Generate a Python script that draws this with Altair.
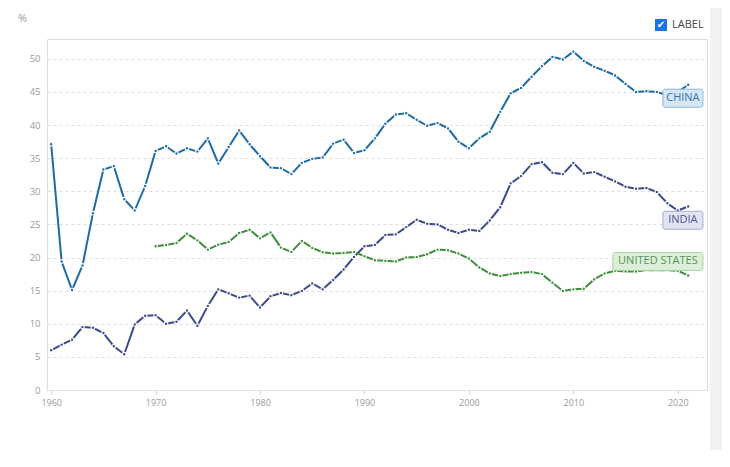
import altair as alt
import pandas as pd

years = list(range(1960, 2022))

china = [37.1, 19.4, 15.1, 18.8, 26.7, 33.3, 33.8, 28.8, 27.1, 30.8,
         36.1, 36.8, 35.7, 36.5, 36.0, 38.0, 34.2, 36.7, 39.2, 37.1,
         35.3, 33.6, 33.5, 32.6, 34.3, 34.9, 35.1, 37.2, 37.8, 35.8,
         36.2, 38.0, 40.2, 41.6, 41.8, 40.8, 39.9, 40.3, 39.5, 37.5,
         36.5, 38.0, 39.0, 42.0, 44.8, 45.6, 47.3, 48.9, 50.3, 49.9,
         51.1, 49.7, 48.8, 48.2, 47.5, 46.2, 45.0, 45.1, 45.0, 44.5, 45.0, 46.1]

india = [6.0, 6.85, 7.6, 9.5, 9.4, 8.6, 6.6, 5.4, 9.9, 11.2,
         11.3, 10.0, 10.3, 12.0, 9.7, 12.7, 15.2, 14.6, 13.95, 14.25,
         12.45, 14.15, 14.65, 14.3, 14.95, 16.1, 15.2, 16.6, 18.2, 20.1,
         21.7, 21.9, 23.4, 23.5, 24.6, 25.7, 25.1, 25.0, 24.2, 23.7,
         24.2, 24.0, 25.6, 27.6, 31.2, 32.3, 34.1, 34.4, 32.8, 32.6,
         34.3, 32.7, 32.9, 32.2, 31.5, 30.7, 30.4, 30.5, 29.9, 28.2, 27.1, 27.7]

united_states = [None] * 10 + [
         21.7, 21.9, 22.2, 23.6, 22.6, 21.2, 21.95, 22.35, 23.7, 24.2,
         22.9, 23.8, 21.5, 20.85, 22.5, 21.45, 20.8, 20.6, 20.7, 20.85,
         20.2, 19.6, 19.5, 19.4, 20.0, 20.1, 20.5, 21.2, 21.1, 20.6,
         19.85, 18.5, 17.6, 17.2, 17.5, 17.7, 17.8, 17.5, 16.2, 14.95,
         15.2, 15.3, 16.7, 17.6, 18.0, 17.9, 17.9, 18.1, 18.1, 18.1, 18.0, 17.3]

series_names = ["CHINA", "INDIA", "UNITED STATES"]
series_values = [china, india, united_states]
x_ticks = [1960, 1970, 1980, 1990, 2000, 2010, 2020]
y_ticks = [0, 5, 10, 15, 20, 25, 30, 35, 40, 45, 50]

line_colors = ["#1c6ba5", "#3d4a8a", "#3f8f3a"]
box_fill = ["#d5e7f4", "#e1e3f0", "#dcefd9"]
box_stroke = ["#8db9db", "#a6abcf", "#a8d2a1"]
text_colors = ["#3673a6", "#4d5594", "#5b9156"]

rows = []
for name, vals in zip(series_names, series_values):
    for y, v in zip(years, vals):
        if v is not None:
            rows.append({"year": y, "value": v, "series": name})
df = pd.DataFrame(rows)

x_scale = alt.Scale(domain=[1959.6, 2022.8], nice=False, zero=False)
y_scale = alt.Scale(domain=[0, 53], nice=False)
color_scale = alt.Scale(domain=series_names, range=line_colors)

x_axis = alt.Axis(values=x_ticks, format="d", title=None, grid=False,
                  labelColor="#9a9a9a", labelFontSize=9, labelFont="Open Sans",
                  tickColor="#cfcfcf", tickSize=4, domainColor="#e3e3e3",
                  labelPadding=4)
y_axis = alt.Axis(values=y_ticks, title="%", titleAngle=0, titleX=-25, titleY=-21,
                  titleAlign="center", titleBaseline="middle", titleColor="#9a9a9a",
                  titleFontSize=11, titleFontWeight="normal", titleFont="Open Sans",
                  labelColor="#9a9a9a", labelFontSize=9.5, labelFont="Open Sans",
                  grid=True, gridDash=[3, 3], gridColor="#dedede",
                  domain=False, ticks=False, labelPadding=7)


def X(field):
    return alt.X(field, scale=x_scale, axis=x_axis)


def Y(field):
    return alt.Y(field, scale=y_scale, axis=y_axis)


lines = alt.Chart(df).mark_line(
    strokeWidth=2,
    point=alt.OverlayMarkDef(filled=True, size=13, stroke="white", strokeWidth=1.2, opacity=1),
).encode(
    x=X("year:Q"),
    y=Y("value:Q"),
    color=alt.Color("series:N", scale=color_scale, legend=None),
)

# label boxes anchored to the last point of each series
box_offsets = [
    dict(xOffset=-25.3, x2Offset=14.7, yOffset=4.5, y2Offset=22.5, tx=-5.3, ty=13.5),
    dict(xOffset=-25.3, x2Offset=14.7, yOffset=4.7, y2Offset=22.7, tx=-5.3, ty=13.7),
    dict(xOffset=-75.3, x2Offset=14.7, yOffset=-23.0, y2Offset=-5.0, tx=-30.3, ty=-14.0),
]

layers = [lines]
for i, name in enumerate(series_names):
    last = df[df.series == name].iloc[-1]
    lab = pd.DataFrame({"year": [last.year], "value": [last.value], "label": [name]})
    o = box_offsets[i]
    box = alt.Chart(lab).mark_rect(
        fill=box_fill[i], stroke=box_stroke[i], strokeWidth=1, cornerRadius=2,
        xOffset=o["xOffset"], x2Offset=o["x2Offset"], yOffset=o["yOffset"], y2Offset=o["y2Offset"],
    ).encode(x=X("year:Q"), x2="year:Q", y=Y("value:Q"), y2="value:Q")
    txt = alt.Chart(lab).mark_text(
        color=text_colors[i], fontSize=11, font="Open Sans", align="center",
        baseline="middle", dx=o["tx"], dy=o["ty"],
    ).encode(x=X("year:Q"), y=Y("value:Q"), text="label:N")
    layers += [box, txt]

# right grey strip of the page frame
strip = alt.Chart(df).mark_rect(fill="#eff1f3").encode(
    x=alt.value(663), x2=alt.value(680), y=alt.value(-40), y2=alt.value(430))

# checkbox "LABEL"
chk_box = alt.Chart(df).mark_rect(fill="#1a73e8", cornerRadius=2).encode(
    x=alt.value(608), x2=alt.value(620), y=alt.value(-20), y2=alt.value(-8))
chk_mark = alt.Chart(pd.DataFrame({"t": ["✔"]})).mark_text(
    color="white", fontSize=10, font="DejaVu Sans", align="center", baseline="middle"
).encode(x=alt.value(614), y=alt.value(-14), text="t:N")
chk_text = alt.Chart(pd.DataFrame({"t": ["LABEL"]})).mark_text(
    color="#444444", fontSize=11, font="Open Sans", align="left", baseline="middle"
).encode(x=alt.value(625), y=alt.value(-14), text="t:N")

chart = alt.layer(strip, *layers, chk_box, chk_mark, chk_text).properties(
    width=660, height=351,
    autosize=alt.AutoSizeParams(type="none"),
    padding={"left": 39, "top": 31, "right": 15, "bottom": 60},
).configure_view(strokeWidth=0).configure(background="white")

chart.save("out.html", embed_options={"renderer": "svg", "actions": False})
